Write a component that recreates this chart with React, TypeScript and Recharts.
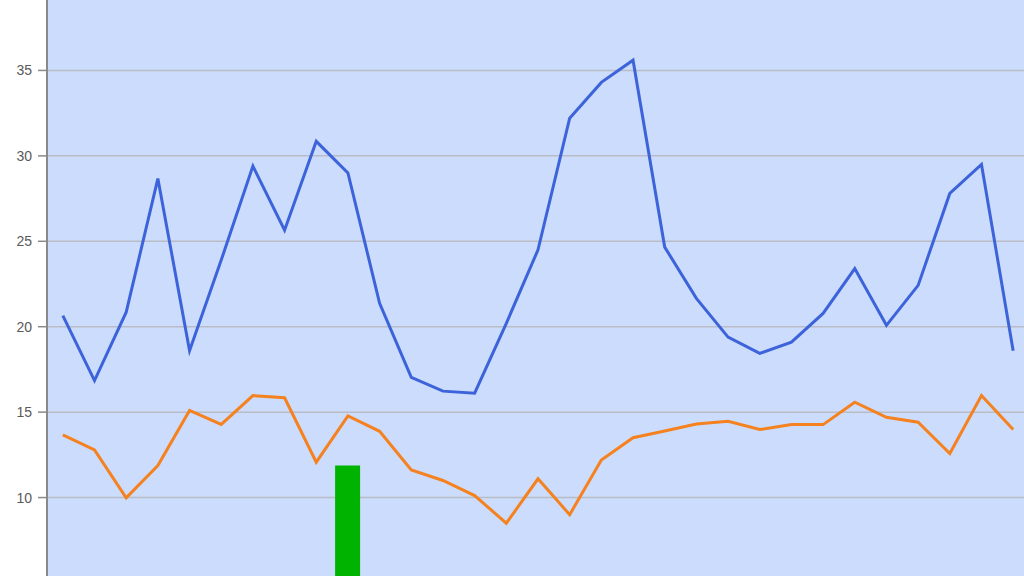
import { ComposedChart, Line, Bar, XAxis, YAxis, CartesianGrid } from 'recharts'

// 31 daily readings
const days = Array.from({ length: 31 }, (_, i) => String(i + 1))

const blueSeries = [
  20.65, 16.85, 20.85, 28.67, 18.6, 23.9, 29.4, 25.65, 30.85, 29.0,
  21.37, 17.03, 16.23, 16.11, 20.2, 24.5, 32.2, 34.3, 35.6, 24.66,
  21.66, 19.39, 18.44, 19.1, 20.78, 23.4, 20.08, 22.42, 27.8, 29.5,
  18.6,
]

const orangeSeries = [
  13.67, 12.79, 9.98, 11.87, 15.1, 14.28, 15.97, 15.84, 12.07, 14.78,
  13.88, 11.62, 11.0, 10.12, 8.5, 11.1, 9.0, 12.2, 13.5, 13.9,
  14.3, 14.47, 13.98, 14.27, 14.27, 15.58, 14.7, 14.41, 12.58, 15.97,
  13.98,
]

const barSeries: (number | null)[] = days.map((_, i) => (i === 9 ? 11.87 : null))

const yTicks = [5, 10, 15, 20, 25, 30, 35]

const data = days.map((d, i) => ({
  day: d,
  blue: blueSeries[i],
  orange: orangeSeries[i],
  bar: barSeries[i],
}))

export default function App() {
  return (
    <div style={{ position: 'fixed', left: 0, top: 0, width: 1024, height: 576, overflow: 'hidden', background: '#fff' }}>
      <div style={{ position: 'absolute', left: -1, top: -15 }}>
        <ComposedChart width={1030} height={598} data={data} margin={{ top: 0, right: 0, left: 0, bottom: 0 }}>
          <CartesianGrid vertical={false} stroke="#b9bcc4" strokeWidth={1.5} fill="#ccdcfd" />
          <XAxis dataKey="day" hide />
          <YAxis
            width={48}
            domain={[5, 40]}
            ticks={yTicks}
            allowDataOverflow
            axisLine={{ stroke: '#8a8a8a', strokeWidth: 2 }}
            tickLine={{ stroke: '#8a8a8a', strokeWidth: 1.5 }}
            tickSize={9}
            tickMargin={6}
            tick={{ fontSize: 14, fill: '#5a5a5a', fontFamily: 'Liberation Sans, Arial, sans-serif' }}
          />
          <Bar dataKey="bar" fill="#00b300" barSize={25} isAnimationActive={false} />
          <Line type="linear" dataKey="blue" stroke="#3d63da" strokeWidth={3} dot={false} isAnimationActive={false} />
          <Line type="linear" dataKey="orange" stroke="#f5821f" strokeWidth={3} dot={false} isAnimationActive={false} />
        </ComposedChart>
      </div>
    </div>
  )
}
